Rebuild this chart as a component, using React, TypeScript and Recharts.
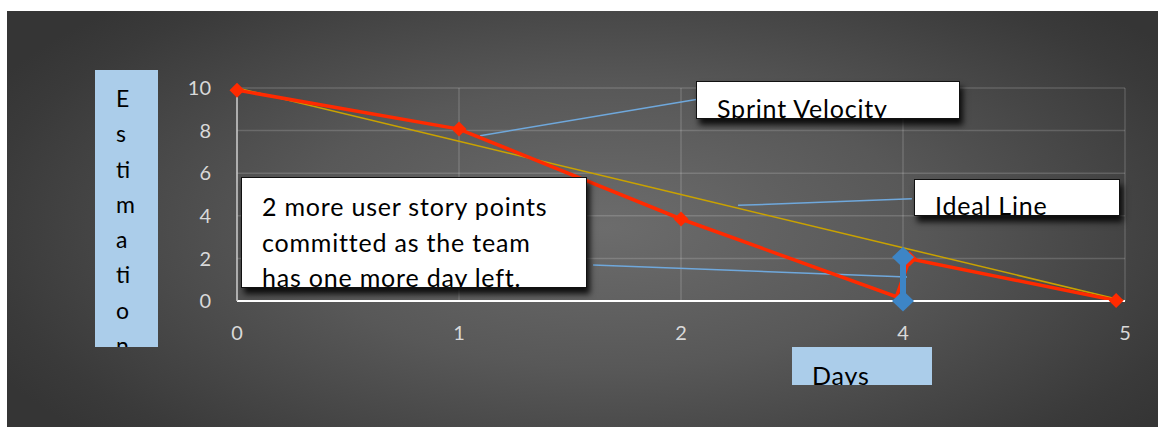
import { ComposedChart, Line, XAxis, YAxis, CartesianGrid, ReferenceLine } from 'recharts'

const dayLabels = ['0', '1', '2', '4', '5']
const idealValues = [10, 7.5, 5, 2.5, 0]

// actual burndown, positions are category slots (slightly off-slot as drawn)
const actualPositions = [0, 1, 2, 2.97, 3.03, 3.96]
const actualValues = [9.9, 8.07, 3.85, 0.2, 1.98, 0.02]

// re-estimation jump on day 4
const adjustPositions = [3, 3]
const adjustValues = [0, 2.05]

const yTicks = [0, 2, 4, 6, 8, 10]
const yTitleLetters = ['E', 's', 'ti', 'm', 'a', 'ti', 'o', 'n']

const FONT = 'Lato, "Open Sans", sans-serif'

const idealData = idealValues.map((v, i) => ({ pos: i, ideal: v }))
const actualData = actualValues.map((v, i) => ({ pos: actualPositions[i], actual: v }))
const adjustData = adjustValues.map((v, i) => ({ pos: adjustPositions[i], adjust: v }))

const Diamond = (w: number, h: number, fill: string, skip?: number[]) => (props: any) => {
  const { cx, cy, index } = props
  if (cx == null || cy == null || (skip && skip.includes(index))) return <g key={`d-${index}`} />
  return (
    <polygon
      key={`d-${index}`}
      points={`${cx},${cy - h / 2} ${cx + w / 2},${cy} ${cx},${cy + h / 2} ${cx - w / 2},${cy}`}
      fill={fill}
    />
  )
}

const boxStyle = {
  position: 'absolute' as const,
  background: '#fff',
  border: '1.5px solid #111',
  boxShadow: '3px 6px 6px rgba(0,0,0,0.85)',
  overflow: 'hidden',
  fontFamily: FONT,
  fontSize: 25,
  letterSpacing: 0.8,
  color: '#000',
  boxSizing: 'border-box' as const,
  whiteSpace: 'nowrap' as const,
}

export default function App() {
  return (
    <div style={{ position: 'absolute', left: 0, top: 0, width: 1158, height: 427, background: '#fff', overflow: 'hidden' }}>
      <div
        style={{
          position: 'absolute',
          left: 7,
          top: 11,
          right: 0,
          bottom: 0,
          background: 'radial-gradient(ellipse 60% 75% at 52% 52%, #6c6c6c 0%, #585858 45%, #3a3a3a 90%, #353535 100%)',
        }}
      />
      <div style={{ position: 'absolute', left: 0, top: 0 }}>
        <ComposedChart width={1158} height={427} margin={{ top: 88, right: 33, bottom: 96, left: 177 }}>
          <CartesianGrid stroke="rgba(255,255,255,0.16)" strokeWidth={1.5} />
          <XAxis
            type="number"
            dataKey="pos"
            domain={[0, 4]}
            ticks={[0, 1, 2, 3, 4]}
            tickFormatter={(v: number) => dayLabels[v]}
            height={30}
            tickLine={false}
            tickSize={0}
            tickMargin={25}
            axisLine={{ stroke: '#ffffff', strokeWidth: 2 }}
            tick={{ fill: '#d9d9d9', fontSize: 20, fontFamily: FONT }}
            allowDuplicatedCategory={false}
          />
          <YAxis
            type="number"
            domain={[0, 10]}
            ticks={yTicks}
            width={60}
            tickLine={false}
            tickSize={0}
            tickMargin={26}
            axisLine={{ stroke: '#c8c8c8', strokeWidth: 1.5 }}
            tick={{ fill: '#d9d9d9', fontSize: 20, fontFamily: FONT }}
          />
          <ReferenceLine segment={[{ x: 1.095, y: 7.76 }, { x: 2.068, y: 9.46 }]} stroke="#6fa8dc" strokeWidth={1.5} />
          <ReferenceLine segment={[{ x: 2.257, y: 4.49 }, { x: 3.04, y: 4.8 }]} stroke="#6fa8dc" strokeWidth={1.5} />
          <ReferenceLine segment={[{ x: 1.604, y: 1.69 }, { x: 3.018, y: 1.13 }]} stroke="#6fa8dc" strokeWidth={1.5} />
          <Line
            data={idealData}
            dataKey="ideal"
            stroke="#c9a200"
            strokeWidth={1.5}
            dot={false}
            activeDot={false}
            isAnimationActive={false}
          />
          <Line
            data={actualData}
            dataKey="actual"
            stroke="#ff2a00"
            strokeWidth={3.5}
            dot={Diamond(15, 15, '#ff2a00', [3])}
            activeDot={false}
            isAnimationActive={false}
          />
          <Line
            data={adjustData}
            dataKey="adjust"
            stroke="#3d85c6"
            strokeWidth={6}
            dot={Diamond(22, 21, '#3d85c6')}
            activeDot={false}
            isAnimationActive={false}
          />
        </ComposedChart>
      </div>

      {/* y axis title */}
      <div
        style={{
          position: 'absolute',
          left: 95,
          top: 70,
          width: 63,
          height: 277,
          background: '#abcdea',
          overflow: 'hidden',
          fontFamily: FONT,
          fontSize: 23,
          color: '#000',
          paddingLeft: 21,
          paddingTop: 11,
          boxSizing: 'border-box',
          lineHeight: '35.3px',
        }}
      >
        {yTitleLetters.map((l, i) => (
          <div key={i}>{l}</div>
        ))}
      </div>

      {/* x axis title */}
      <div
        style={{
          position: 'absolute',
          left: 792,
          top: 347,
          width: 140,
          height: 38,
          background: '#abcdea',
          overflow: 'hidden',
          fontFamily: FONT,
          fontSize: 25,
          letterSpacing: 0.8,
          color: '#000',
          paddingLeft: 20,
          paddingTop: 13,
          boxSizing: 'border-box',
          lineHeight: '30px',
        }}
      >
        Days
      </div>

      <div style={{ ...boxStyle, left: 696, top: 81, width: 264, height: 38, paddingLeft: 20, paddingTop: 11, lineHeight: '30px' }}>
        Sprint Velocity
      </div>

      <div style={{ ...boxStyle, left: 914, top: 179, width: 206, height: 37, paddingLeft: 20, paddingTop: 10, lineHeight: '30px' }}>
        Ideal Line
      </div>

      <div style={{ ...boxStyle, left: 241, top: 177, width: 346, height: 111, paddingLeft: 20, paddingTop: 11, lineHeight: '35.5px' }}>
        <div>2 more user story points</div>
        <div>committed as the team</div>
        <div>has one more day left.</div>
      </div>
    </div>
  )
}
